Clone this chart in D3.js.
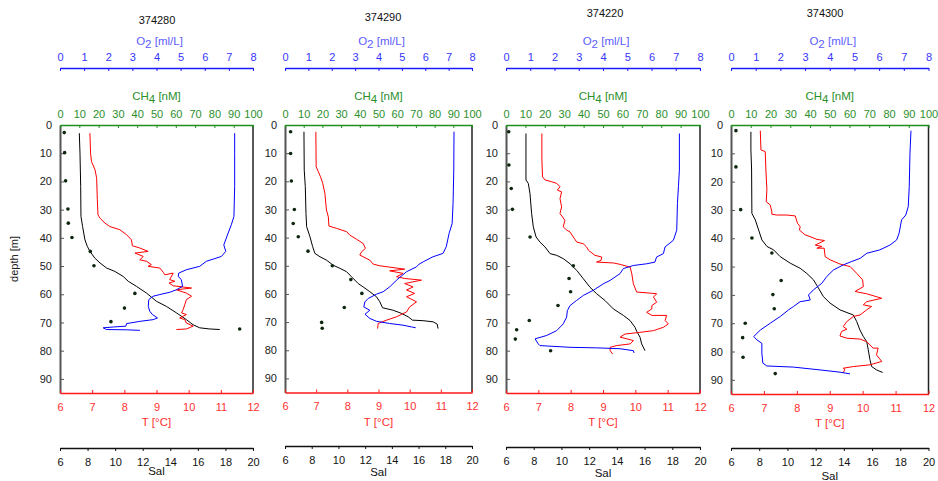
<!DOCTYPE html>
<html>
<head>
<meta charset="utf-8">
<script src="https://cdn.jsdelivr.net/npm/d3@7"></script>
<style>
body { margin: 0; background: #fff; }
text { font-family: "Liberation Sans", Arial, sans-serif; }
</style>
</head>
<body>
<div id="plot"></div>
<script>
// station names (panel titles)
var stations = ["374280", "374290", "374220", "374300"];

// tick labels
var o2Ticks = [0, 1, 2, 3, 4, 5, 6, 7, 8];
var ch4Ticks = [0, 10, 20, 30, 40, 50, 60, 70, 80, 90, 100];
var tTicks = [6, 7, 8, 9, 10, 11, 12];
var salTicks = [6, 8, 10, 12, 14, 16, 18, 20];
var depthTicks = [0, 10, 20, 30, 40, 50, 60, 70, 80, 90];

// profiles, [depth m, value]
var sal374280 = [[2.9,7.40],[10,7.45],[21.8,7.50],[32.4,7.52],[36,7.64],[40.7,7.81],[43,7.98],[44.8,8.17],[47.2,8.53],[48.9,8.90],[50.7,9.38],[51.9,9.98],[53.7,10.59],[55.4,10.95],[57.2,11.55],[59.6,12.28],[62.5,13.0],[64.3,13.72],[66.6,14.45],[69,15.17],[70.8,15.65],[71.9,16.14],[72.3,16.86],[72.5,17.59]];
var t374280 = [[2.9,6.93],[10,6.95],[13,6.98],[15.9,7.09],[18.9,7.14],[26.5,7.16],[31.8,7.18],[33,7.24],[34.8,7.40],[36,7.55],[37.1,7.86],[38.9,8.07],[40.7,8.22],[42.8,8.25],[43.6,8.48],[44.8,8.74],[45.4,8.33],[46.6,8.59],[47.8,8.48],[48.3,8.69],[49.5,8.84],[50.1,8.74],[50.7,9.10],[52.2,9.21],[53.1,9.26],[52.5,9.52],[54.8,9.41],[55.4,9.57],[56,9.39],[57,9.52],[57.8,10.09],[58.4,9.62],[59.6,9.93],[60.7,10.09],[61.9,9.93],[63.7,9.88],[65.4,9.83],[66.6,9.78],[67.2,9.93],[68.4,9.72],[69,9.88],[70.2,9.93],[71.3,10.14],[72.3,9.93],[72.5,9.62]];
var o2374280 = [[2.9,7.24],[10,7.24],[21.8,7.24],[32.4,7.21],[35.4,7.10],[38.3,6.97],[42.5,6.79],[44.8,6.87],[46.6,6.69],[48.3,6.07],[50.1,5.79],[51.3,5.24],[52.5,4.92],[53.7,4.90],[54.8,5.03],[57.2,5.08],[58.4,4.83],[59.3,4.55],[60.1,4.14],[60.7,3.86],[61.9,3.68],[64.3,3.66],[66,3.72],[67.2,3.83],[68.4,4.04],[69,3.86],[69.6,3.31],[70.4,2.76],[71.3,2.73],[71.6,2.21],[71.9,1.79],[72.5,1.93],[72.6,2.76],[72.8,3.31]];
var ch4374280 = [[2.7,2.2],[9.8,2.4],[19.8,2.9],[29.8,4.1],[34.8,4.3],[39.9,6.2],[44.8,15.7],[49.9,17.6],[59.7,38.8],[64.9,33.4],[69.7,26.4],[72.3,93.1]];

var sal374290 = [[2.4,7.42],[16,7.44],[21.9,7.52],[31.4,7.57],[36.1,7.62],[39.7,7.87],[43.2,8.07],[45.6,8.24],[46.8,8.62],[48,9.11],[49.8,9.61],[50.9,10.11],[52.1,10.61],[53.9,10.98],[56.3,11.48],[57.5,11.85],[59.2,12.35],[61,12.85],[62.8,13.1],[64.9,13.3],[65.8,14.1],[66.9,14.72],[68.1,15.22],[69.3,15.54],[69.5,16.34],[69.9,17.09],[70.7,17.39],[72.3,17.46]];
var t374290 = [[2.4,6.99],[14.8,7.0],[16.6,7.07],[18.4,7.14],[20.7,7.21],[24.3,7.28],[30.2,7.33],[32.6,7.39],[35.9,7.41],[36.7,7.65],[37.9,7.98],[39.1,8.08],[40.6,8.30],[42.1,8.51],[43.8,8.58],[45,8.46],[46.2,8.40],[46.8,8.51],[48,8.72],[49.4,8.83],[50,9.04],[50.4,9.31],[51.2,9.84],[51.8,9.36],[52.7,9.79],[53.9,9.58],[54.5,9.84],[55.1,10.38],[56.3,9.84],[57.5,10.11],[58.6,9.90],[59.8,10.16],[61,9.90],[62.8,10.22],[64.6,10.0],[66.4,9.90],[68.1,9.58],[69.3,9.26],[70.5,8.99],[72.3,8.97]];
var o2374290 = [[2.4,7.23],[16,7.22],[27.8,7.19],[35,7.15],[38.5,7.02],[43.2,6.90],[45.6,6.76],[46.8,6.33],[48.6,5.91],[49.4,5.74],[50.4,5.62],[52.1,5.20],[55.1,4.77],[57.5,4.48],[59.2,4.20],[60.1,3.91],[61.6,3.56],[62.8,3.42],[64.6,3.37],[65.8,3.63],[67.2,3.42],[68.7,3.63],[69.7,3.91],[70.5,4.48],[71.1,5.05],[71.7,5.41],[72.0,5.59]];
var ch4374290 = [[2.4,3.0],[10.1,3.0],[19.9,3.4],[30,5.0],[35,4.4],[39.7,7.1],[44.8,12.3],[50,25.3],[54.9,35.2],[59.8,41.1],[64.8,31.7],[70.1,19.6],[72.2,19.9]];

var sal374220 = [[3,7.44],[19.5,7.44],[20.7,7.61],[24.3,7.73],[31.4,7.85],[36.1,7.97],[39.7,8.17],[41.5,8.45],[43.2,8.81],[45.6,9.18],[46.2,9.66],[47.4,10.14],[49.2,10.62],[51.5,11.10],[54.5,11.58],[57.5,12.06],[59.8,12.54],[62.2,13.14],[65.2,13.75],[67.5,14.47],[69.3,14.95],[71.7,15.31],[73.1,15.43],[75.2,15.67],[77.6,15.79],[80,16.03]];
var t374220 = [[3,7.11],[12.4,7.11],[18.4,7.13],[19.5,7.21],[20.1,7.41],[20.7,7.57],[21.9,7.67],[23.1,7.59],[23.7,7.72],[26.1,7.67],[29,7.72],[31.4,7.67],[32.6,7.75],[33.8,7.82],[36.1,7.77],[37.3,7.88],[37.9,7.98],[39.7,8.08],[41.5,8.19],[42.1,8.39],[43.2,8.49],[44.4,8.55],[46.2,8.75],[46.8,8.96],[48,8.94],[48.6,8.80],[48.9,9.32],[49.4,9.53],[50.4,9.84],[52.7,9.89],[56.3,9.94],[59.2,10.04],[59.8,10.66],[61,10.56],[62.8,10.66],[64,10.51],[65.2,10.51],[66.4,10.35],[67.5,10.51],[67.5,10.97],[69.3,10.92],[70.5,11.02],[71.7,10.87],[72.9,10.56],[73.5,10.14],[74.1,9.68],[75.2,9.53],[76.4,9.94],[77.6,9.84],[78.2,9.42],[78.8,9.22],[80,9.22],[81.2,9.30]];
var o2374220 = [[3,7.15],[16,7.15],[21.9,7.11],[27.8,7.07],[37.3,7.04],[40.9,6.90],[43.2,6.56],[45.6,6.49],[46.8,6.21],[48.6,6.14],[49.2,5.80],[49.8,5.25],[50.9,4.84],[52.7,4.70],[55.1,4.29],[56.3,4.01],[58.6,3.60],[60.4,3.19],[62.2,2.91],[64,2.64],[65.8,2.53],[68.1,2.50],[70.5,2.36],[72.9,2.09],[74.6,1.68],[75.8,1.20],[77.6,1.33],[78.2,1.40],[78.8,2.64],[79,3.74],[79.3,4.70],[80,5.25],[80.8,5.28]];
var ch4374220 = [[2.4,1.4],[14.2,1.5],[22.5,2.7],[29.9,3.3],[39.7,12.4],[49.9,34.7],[54.4,32.5],[59.1,33.3],[64,26.8],[69.3,12.0],[72.6,5.5],[75.9,4.8],[80,23.0]];

var sal374300 = [[2.4,7.41],[8.8,7.41],[15.9,7.46],[31.2,7.48],[33.5,7.72],[37.1,7.96],[40.6,8.19],[42.9,8.55],[44.1,9.02],[46.5,9.49],[48.8,10.2],[50.6,10.90],[52.4,11.37],[54.7,11.85],[57.6,12.20],[60.6,12.55],[62.9,13.02],[65.3,13.73],[67.1,14.67],[69.4,14.91],[72.4,15.14],[74.7,15.38],[76.5,15.62],[79.4,15.73],[82.9,15.85],[85.3,15.97],[86.5,16.32],[87.4,16.75]];
var t374300 = [[2,6.89],[8.8,6.91],[9.4,7.04],[15.9,7.06],[22.9,7.09],[27.1,7.07],[28.2,7.19],[30.6,7.24],[31.5,7.24],[31.8,7.39],[31.8,7.70],[32.1,7.95],[34.7,8.02],[35.9,8.10],[37.1,8.08],[38.8,8.25],[39.4,8.40],[40.4,8.61],[40.8,8.84],[42.4,8.56],[42.9,8.76],[43.5,8.61],[43.5,8.83],[46.5,8.86],[47.6,9.01],[49.1,9.31],[50,9.62],[52.4,9.82],[54.7,10.0],[57.1,10.02],[58.8,9.77],[59.6,10.12],[61.2,10.58],[62.4,10.12],[63.5,10.02],[64.1,10.27],[65.3,10.12],[67.1,9.92],[67.6,9.72],[69.4,9.52],[71.2,9.41],[72.1,9.52],[72.9,9.36],[74.5,9.31],[75.3,9.52],[75.6,9.92],[76.5,10.12],[78.8,10.32],[78.8,10.47],[81.2,10.42],[83.5,10.58],[84.7,10.22],[85.3,9.72],[85.9,9.41],[86.2,9.46],[87.6,9.41]];
var o2374300 = [[2,7.29],[10,7.25],[21.8,7.22],[28.8,7.18],[31.8,7.08],[33.5,6.91],[38.2,6.81],[40.6,6.71],[42.4,6.44],[44.1,6.03],[45.3,5.50],[47.1,5.23],[48.2,4.89],[49.4,4.55],[51.2,4.15],[53.5,3.88],[55.9,3.68],[58.2,3.34],[60,3.14],[61.8,3.21],[62.4,2.80],[64.1,2.53],[65.3,2.33],[67.6,2.0],[70,1.59],[72.4,1.19],[74.7,0.92],[75.9,1.05],[77.1,1.25],[80.6,1.25],[84.1,1.29],[85.1,1.45],[85.5,2.53],[86.5,3.61],[87.3,4.42],[87.9,4.82]];
var ch4374300 = [[2,2.5],[14.8,2.5],[29.9,4.9],[39.9,10.6],[45.2,20.7],[54.9,25.4],[59.9,21.2],[64.9,21.9],[70,7.2],[75.1,5.9],[82,6.1],[87.8,22.4]];

var salData = [sal374280, sal374290, sal374220, sal374300];
var tData = [t374280, t374290, t374220, t374300];
var o2Data = [o2374280, o2374290, o2374220, o2374300];
var ch4Data = [ch4374280, ch4374290, ch4374220, ch4374300];

// panel placement
var panels = [
    {x0: 60, x1: 253, bottom: 393, titleX: 157, titleY: 24, salY: 448, salTitleY: 475},
    {x0: 285, x1: 472, bottom: 392.5, titleX: 383, titleY: 21, salY: 446, salTitleY: 476},
    {x0: 506, x1: 700, bottom: 393, titleX: 605, titleY: 17, salY: 447, salTitleY: 477},
    {x0: 731, x1: 928.5, bottom: 394, titleX: 825, titleY: 17, salY: 448, salTitleY: 480}
];
var boxTop = 125, o2Y = 68;
var fontSize = 11;
var intFormat = d3.format("d");

var svg = d3.select("#plot")
    .append("svg")
    .attr("width", 938)
    .attr("height", 481);

// style an axis group
function styleAxis(g, color, textColor, width) {
    g.attr("font-family", null).attr("font-size", null);
    g.select(".domain").attr("stroke", color).attr("stroke-width", width);
    g.selectAll(".tick line").attr("stroke", color).attr("stroke-width", 1);
    g.selectAll(".tick text")
        .attr("fill", textColor)
        .style("font-size", fontSize + "px");
}

// title with a subscript
function subTitle(g, x, y, a, sub, b, color) {
    var t = g.append("text")
        .attr("x", x)
        .attr("y", y)
        .attr("text-anchor", "middle")
        .attr("fill", color)
        .style("font-size", "11.5px");
    t.append("tspan").text(a);
    t.append("tspan").attr("dy", 3).text(sub);
    t.append("tspan").attr("dy", -3).text(" " + b);
}

panels.forEach(function(p, i) {
    var g = svg.append("g");

    var y = d3.scaleLinear().domain([0, 95]).range([boxTop, p.bottom]);
    var xT = d3.scaleLinear().domain([6, 12]).range([p.x0, p.x1]);
    var xSal = d3.scaleLinear().domain([6, 20]).range([p.x0, p.x1]);
    var xO2 = d3.scaleLinear().domain([0, 8]).range([p.x0, p.x1]);
    var xCH4 = d3.scaleLinear().domain([0, 100]).range([p.x0, p.x1]);
    var cx = (p.x0 + p.x1) / 2;

    //Station title
    g.append("text")
        .attr("x", p.titleX)
        .attr("y", p.titleY)
        .attr("text-anchor", "middle")
        .attr("fill", "#111")
        .style("font-size", fontSize + "px")
        .text(stations[i]);

    //O2 axis
    g.append("g")
        .attr("transform", "translate(0," + o2Y + ")")
        .call(d3.axisTop(xO2).tickValues(o2Ticks).tickFormat(intFormat).tickSize(-3).tickSizeOuter(0).tickPadding(7))
        .call(styleAxis, "#1a1aff", "#3535ff", 1.5);
    subTitle(g, cx + 3, 45, "O", "2", "[ml/L]", "#5c5cff");

    //CH4 title (axis is the top of the box)
    subTitle(g, cx, 100, "CH", "4", "[nM]", "#2b8f2b");

    //right border of the box
    g.append("line")
        .attr("x1", p.x1).attr("x2", p.x1)
        .attr("y1", boxTop).attr("y2", p.bottom)
        .attr("stroke", "#222")
        .attr("stroke-width", 1.5);

    //Depth axis
    g.append("g")
        .attr("transform", "translate(" + p.x0 + ",0)")
        .call(d3.axisLeft(y).tickValues(depthTicks).tickFormat(intFormat).tickSize(-4).tickSizeOuter(0).tickPadding(8))
        .call(styleAxis, "#555", "#222", 2);

    g.append("g")
        .attr("transform", "translate(0," + boxTop + ")")
        .call(d3.axisTop(xCH4).tickValues(ch4Ticks).tickFormat(intFormat).tickSize(-3).tickSizeOuter(0).tickPadding(7))
        .call(styleAxis, "#1f8f1f", "#2b8f2b", 1.5);

    //T axis along the bottom of the box
    g.append("g")
        .attr("transform", "translate(0," + p.bottom + ")")
        .call(d3.axisBottom(xT).tickValues(tTicks).tickFormat(intFormat).tickSize(-3).tickSizeOuter(0).tickPadding(10))
        .call(styleAxis, "#ff1a1a", "#ff3030", 1.5);
    g.append("text")
        .attr("x", cx)
        .attr("y", p.bottom + 33)
        .attr("text-anchor", "middle")
        .attr("fill", "#ff3030")
        .style("font-size", "11.5px")
        .text("T [°C]");

    //Salinity axis
    g.append("g")
        .attr("transform", "translate(0," + p.salY + ")")
        .call(d3.axisBottom(xSal).tickValues(salTicks).tickFormat(intFormat).tickSize(3).tickSizeOuter(0).tickPadding(7))
        .call(styleAxis, "#111", "#111", 1.5);
    g.append("text")
        .attr("x", cx)
        .attr("y", p.salTitleY)
        .attr("text-anchor", "middle")
        .attr("fill", "#111")
        .style("font-size", "11.5px")
        .text("Sal");

    //profile lines
    var line = function(x) {
        return d3.line()
            .x(function(d) { return x(d[1]); })
            .y(function(d) { return y(d[0]); });
    };
    g.append("path")
        .datum(salData[i])
        .attr("fill", "none")
        .attr("stroke", "#000")
        .attr("stroke-width", 1)
        .attr("d", line(xSal));
    g.append("path")
        .datum(tData[i])
        .attr("fill", "none")
        .attr("stroke", "#ff0000")
        .attr("stroke-width", 1)
        .attr("d", line(xT));
    g.append("path")
        .datum(o2Data[i])
        .attr("fill", "none")
        .attr("stroke", "#0000ff")
        .attr("stroke-width", 1)
        .attr("d", line(xO2));

    //CH4 points
    g.append("g")
        .selectAll("circle")
        .data(ch4Data[i])
        .enter()
        .append("circle")
        .attr("cx", function(d) { return xCH4(d[1]); })
        .attr("cy", function(d) { return y(d[0]); })
        .attr("r", 1.8)
        .attr("fill", "#0d260d");
});

//depth label
svg.append("text")
    .attr("transform", "translate(18,259) rotate(-90)")
    .attr("text-anchor", "middle")
    .attr("fill", "#222")
    .style("font-size", "11px")
    .text("depth [m]");
</script>
</body>
</html>
